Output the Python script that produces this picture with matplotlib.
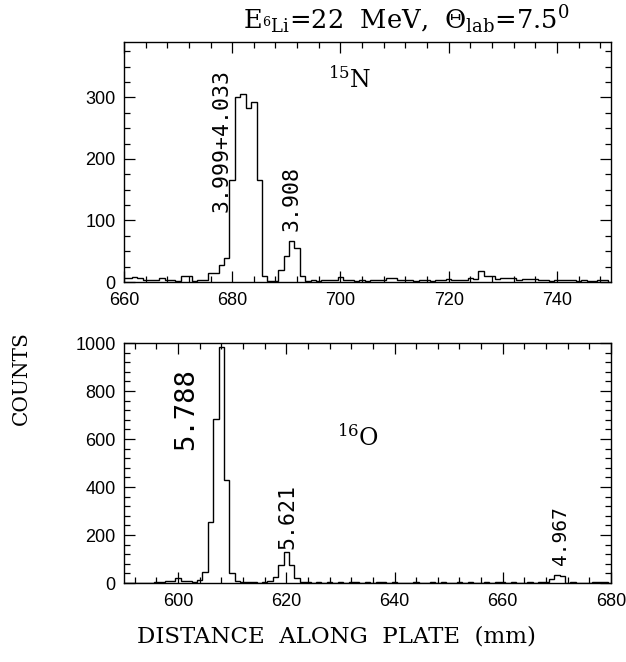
import numpy as np
import matplotlib
matplotlib.use("Agg")
import matplotlib.pyplot as plt
from matplotlib.ticker import MultipleLocator

plt.rcParams['mathtext.fontset'] = 'dejavuserif'

# 15N spectrum, 1 mm bins centred on integers 660..749
top_x0 = 660
top_counts = [6, 6, 8, 6, 4, 4, 3, 7, 4, 4,
              2, 9, 9, 2, 4, 3, 14, 14, 27, 39,
              165, 300, 305, 282, 292, 165, 10, 1, 2, 20,
              42, 67, 55, 9, 2, 3, 1, 3, 4, 4,
              8, 4, 3, 2, 3, 2, 3, 4, 4, 6,
              6, 3, 3, 3, 2, 3, 3, 2, 4, 4,
              5, 4, 3, 4, 6, 5, 18, 9, 9, 5,
              6, 7, 6, 4, 5, 5, 5, 3, 3, 2,
              4, 3, 3, 3, 2, 3, 2, 2, 4, 4]

# 16O spectrum, 1 mm bins centred on integers 590..679
bot_x0 = 590
bot_counts = [0, 0, 1, 0, 0, 1, 5, 5, 10, 10,
              20, 10, 10, 5, 12, 45, 255, 682, 985, 429,
              42, 8, 3, 4, 3, 2, 5, 8, 25, 75,
              130, 75, 20, 5, 3, 2, 4, 2, 3, 2,
              3, 2, 3, 4, 2, 3, 2, 3, 6, 2,
              3, 2, 2, 2, 3, 2, 2, 3, 2, 3,
              2, 2, 4, 2, 3, 2, 2, 3, 2, 3,
              4, 2, 3, 2, 2, 3, 2, 3, 6, 15,
              32, 28, 2, 3, 1, 2, 2, 3, 4, 3]

# (text, x, y, fontsize)
top_labels = [("3.999+4.033", 678.1, 230, 15.5), ("3.908", 690.9, 136, 15.5)]
bot_labels = [("5.788", 601.5, 724, 19.5), ("5.621", 620.3, 276, 15.5),
              ("4.967", 670.6, 197, 14)]

mono = 'DejaVu Sans Mono'
sans = 'Liberation Sans'
serif = 'DejaVu Serif'

fig = plt.figure(figsize=(6.26, 6.62), dpi=100)
ax1 = fig.add_axes([0.198, 0.574, 0.778, 0.3625])
ax2 = fig.add_axes([0.198, 0.1193, 0.778, 0.3625])


def draw(ax, x0, counts, xlim, ylim, xmaj, ymaj, ymin):
    edges = np.arange(len(counts) + 1) + x0 - 0.5
    ax.stairs(counts, edges, color='black', lw=1.0, baseline=0)
    ax.set_xlim(*xlim)
    ax.set_ylim(*ylim)
    ax.xaxis.set_major_locator(MultipleLocator(xmaj))
    ax.xaxis.set_minor_locator(MultipleLocator(4))
    ax.yaxis.set_major_locator(MultipleLocator(ymaj))
    ax.yaxis.set_minor_locator(MultipleLocator(ymin))
    ax.tick_params(which='both', direction='in', top=True, right=True,
                   labelsize=13, width=0.9)
    ax.tick_params(which='major', length=8)
    ax.tick_params(which='minor', length=4)
    ax.tick_params(axis='x', which='major', pad=7)
    ax.tick_params(axis='y', which='major', pad=6)
    for lab in ax.get_xticklabels() + ax.get_yticklabels():
        lab.set_family(sans)
    for s in ax.spines.values():
        s.set_linewidth(1.0)


draw(ax1, top_x0, top_counts, (660, 750), (0, 390), 20, 100, 25)
draw(ax2, bot_x0, bot_counts, (590, 680), (0, 1000), 20, 200, 40)

for txt, x, y, fs in top_labels:
    ax1.text(x, y, txt, rotation=90, ha='center', va='center',
             family=mono, fontsize=fs)
for txt, x, y, fs in bot_labels:
    ax2.text(x, y, txt, rotation=90, ha='center', va='center',
             family=mono, fontsize=fs)

ax1.text(701.8, 330, r'$^{15}$N', ha='center', va='center',
         family=serif, fontsize=17)
ax2.text(633.3, 607, r'$^{16}$O', ha='center', va='center',
         family=serif, fontsize=17)

fig.text(0.649, 0.970,
         r'E$_{^{6}\mathrm{Li}}$=22  MeV,  $\Theta_{\mathrm{lab}}$=7.5$^{0}$',
         ha='center', va='center', family=serif, fontsize=18.5)
fig.text(0.538, 0.039, 'DISTANCE  ALONG  PLATE  (mm)', ha='center', va='center',
         family=serif, fontsize=16.5)
fig.text(0.034, 0.429, 'COUNTS', ha='center', va='center', rotation=90,
         family=serif, fontsize=14.5)

fig.savefig('out.png', dpi=100)
